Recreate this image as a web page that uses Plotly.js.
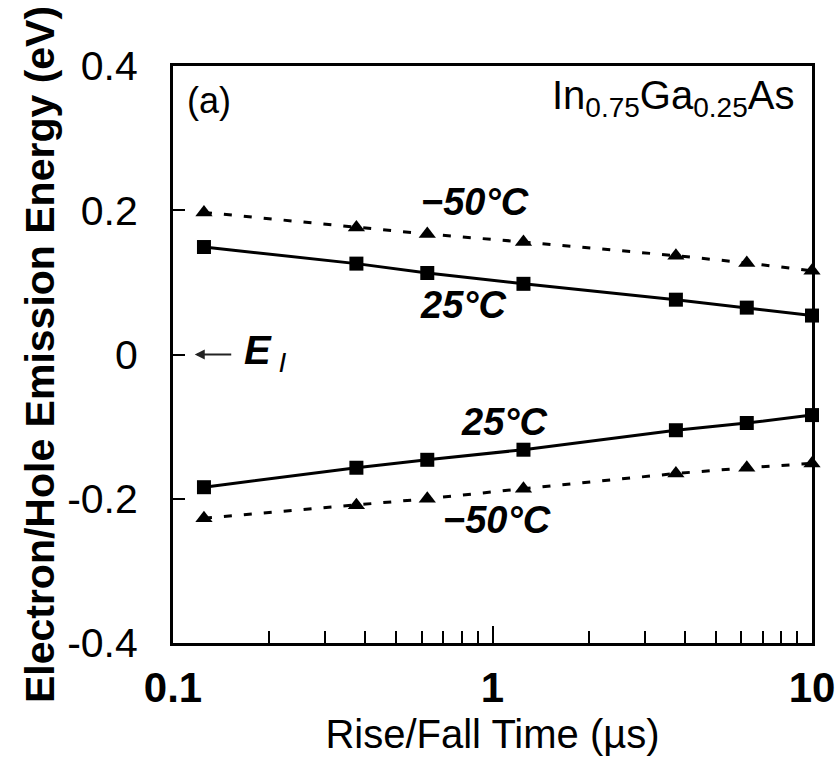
<!DOCTYPE html>
<html>
<head>
<meta charset="utf-8">
<script src="https://cdn.plot.ly/plotly-3.0.1.min.js"></script>
<style>html,body{margin:0;padding:0;background:#fff;}#plot{width:837px;height:767px;}</style>
</head>
<body>
<div id="plot"></div>
<script>
// Rise/fall time (µs)
var riseFallTime = [0.125, 0.375, 0.625, 1.25, 3.75, 6.25, 10];
// Electron emission energy (upper branch)
var electron25C   = [0.149, 0.126, 0.113, 0.098, 0.076, 0.065, 0.054];
var electronM50C  = [0.197, 0.176, 0.167, 0.156, 0.137, 0.127, 0.116];
// Hole emission energy (lower branch)
var hole25C       = [-0.184, -0.157, -0.146, -0.132, -0.105, -0.095, -0.084];
var holeM50C      = [-0.227, -0.209, -0.200, -0.186, -0.165, -0.157, -0.151];

var xTickVals = [0.1, 1, 10];
var xTickText = ["0.1", "1", "10"];
var xMinorVals = [0.2,0.3,0.4,0.5,0.6,0.7,0.8,0.9,2,3,4,5,6,7,8,9];
var yTickVals = [-0.4, -0.2, 0, 0.2, 0.4];
var yTickText = ["-0.4", "-0.2", "0", "0.2", "0.4"];

var FONT = "Liberation Sans, Arial, sans-serif";

function solid(y){
  return {x: riseFallTime, y: y, type: 'scatter', mode: 'lines+markers',
    line: {color: '#000', width: 3},
    marker: {symbol: 'square', size: 14, color: '#000'},
    showlegend: false, cliponaxis: false};
}
function dashed(y){
  return {x: riseFallTime, y: y, type: 'scatter', mode: 'lines+markers',
    line: {color: '#000', width: 3, dash: '8px,12px'},
    marker: {symbol: 'triangle-up', size: 15, color: '#000'},
    showlegend: false, cliponaxis: false};
}

var data = [dashed(electronM50C), solid(electron25C), solid(hole25C), dashed(holeM50C)];

var lblFont = {family: FONT, size: 38, color: '#000'};

var layout = {
  width: 837, height: 767,
  margin: {l: 173, r: 25, t: 66, b: 124},
  paper_bgcolor: '#fff', plot_bgcolor: '#fff',
  showlegend: false,
  xaxis: {
    type: 'log', range: [-1, 1],
    tickmode: 'array', tickvals: xTickVals, ticktext: xTickText,
    ticks: 'inside', ticklen: 17, tickwidth: 2, tickcolor: '#000',
    minor: {tickmode: 'array', tickvals: xMinorVals, ticks: 'inside', ticklen: 12, tickwidth: 2, tickcolor: '#000', showgrid: false},
    showgrid: false, zeroline: false,
    showline: true, linewidth: 3, linecolor: '#000', mirror: true,
    tickfont: {family: FONT, size: 42, color: '#000', weight: 'bold'},
    ticklabelstandoff: 6,
    title: {text: 'Rise/Fall Time (µs)', font: {family: FONT, size: 40, color: '#000'}, standoff: 10},
    automargin: false
  },
  yaxis: {
    range: [-0.4, 0.4],
    tickmode: 'array', tickvals: yTickVals, ticktext: yTickText,
    ticks: 'inside', ticklen: 12, tickwidth: 2, tickcolor: '#000',
    showgrid: false, zeroline: false,
    showline: true, linewidth: 3, linecolor: '#000', mirror: true,
    tickfont: {family: FONT, size: 41, color: '#000'},
    ticklabelstandoff: 24,
    title: {text: '<b>Electron/Hole Emission Energy (eV)</b>', font: {family: FONT, size: 41, color: '#000'}, standoff: 0},
    automargin: false
  },
  annotations: [
    {xref: 'paper', yref: 'paper', x: 0.019, y: 0.941, xanchor: 'left', yanchor: 'middle',
     text: '(a)', showarrow: false, font: {family: FONT, size: 36, color: '#000'}},
    {xref: 'paper', yref: 'paper', x: 0.975, y: 0.945, xanchor: 'right', yanchor: 'middle',
     text: 'In<sub>0.75</sub>Ga<sub>0.25</sub>As', showarrow: false, font: {family: FONT, size: 40, color: '#000'}},
    {xref: 'paper', yref: 'paper', x: 0.473, y: 0.764, xanchor: 'center', yanchor: 'middle',
     text: '<b><i>\u221250°C</i></b>', showarrow: false, font: lblFont},
    {xref: 'paper', yref: 'paper', x: 0.454, y: 0.586, xanchor: 'center', yanchor: 'middle',
     text: '<b><i>25°C</i></b>', showarrow: false, font: lblFont},
    {xref: 'paper', yref: 'paper', x: 0.518, y: 0.383, xanchor: 'center', yanchor: 'middle',
     text: '<b><i>25°C</i></b>', showarrow: false, font: lblFont},
    {xref: 'paper', yref: 'paper', x: 0.507, y: 0.213, xanchor: 'center', yanchor: 'middle',
     text: '<b><i>\u221250°C</i></b>', showarrow: false, font: lblFont},
    {xref: 'paper', yref: 'y', x: 0.034, y: 0, text: '', showarrow: true,
     ax: 38, ay: 0, arrowhead: 2, arrowsize: 1, arrowwidth: 2, arrowcolor: '#222'},
    {xref: 'paper', yref: 'y', x: 0.108, y: 0.002, xanchor: 'left', yanchor: 'middle',
     text: '<b><i>E</i></b><sub><i> I</i></sub>', showarrow: false, font: {family: FONT, size: 40, color: '#000'}}
  ]
};

Plotly.newPlot('plot', data, layout, {displayModeBar: false, staticPlot: true});
</script>
</body>
</html>
